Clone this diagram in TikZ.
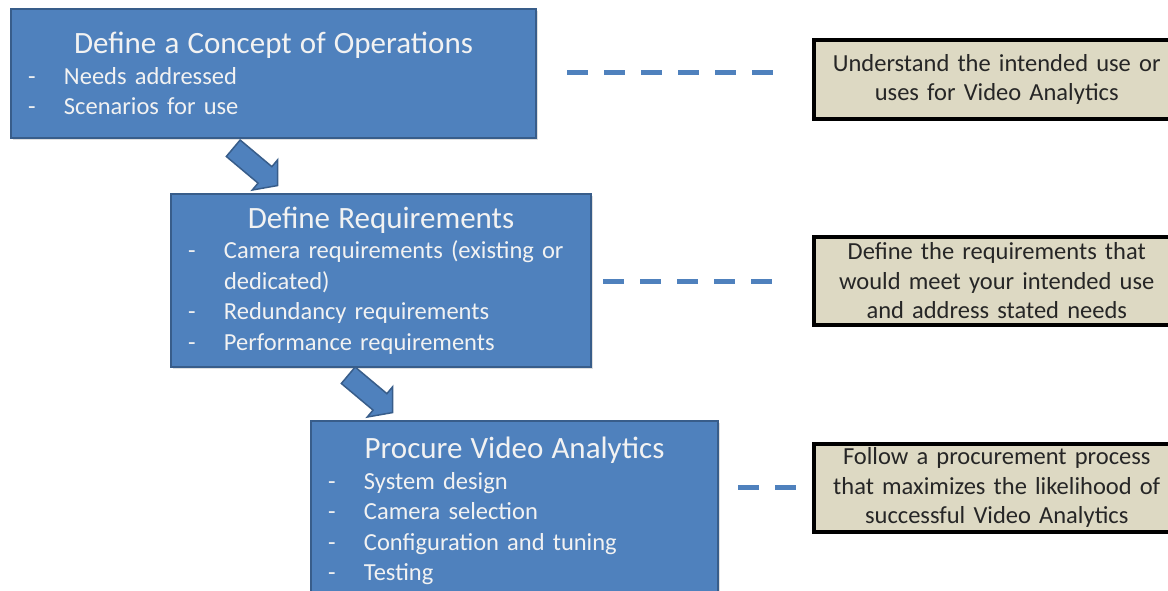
\documentclass[tikz,border=0pt]{standalone}
\usepackage{fontspec}
\setmainfont{Carlito}
\usetikzlibrary{shapes.arrows}
\usetikzlibrary{shadows}

\definecolor{stepblue}{HTML}{4F81BD}
\definecolor{stepedge}{HTML}{385D8A}
\definecolor{notetan}{HTML}{DDD9C3}

\newcommand{\steptitle}[1]{\makebox[\hsize]{\fontsize{31}{36}\selectfont #1}}
\newcommand{\stepdash}{\makebox[36pt][l]{-}}

\tikzset{
    stepbox/.style={draw=stepedge, line width=2pt, fill=stepblue, text=white!95!black,
        rectangle, anchor=north west, inner xsep=17pt, align=left,
        font=\fontsize{24.5}{30.5}\selectfont,
        drop shadow={opacity=0.25, shadow xshift=2pt, shadow yshift=-2pt}},
    notebox/.style={draw=black, line width=3.5pt, fill=notetan, text=black!85,
        rectangle, anchor=north west, minimum width=366pt, minimum height=88pt,
        text width=350pt, align=center, font=\fontsize{24.5}{29.5}\selectfont},
    steparrow/.style={single arrow, draw=stepedge, line width=1.5pt, fill=stepblue,
        inner sep=10pt, minimum height=58pt, single arrow head extend=9pt,
        single arrow tip angle=100},
    dashlink/.style={draw=stepblue, line width=5pt, dash pattern=on 21pt off 16pt}
}

\begin{document}
\begin{tikzpicture}[x=1pt, y=-1pt]

    \useasboundingbox (0, 0) rectangle (1168, 590);

    % Declare the steps
    \node[stepbox, minimum width=525pt, minimum height=129pt, text width=491pt] at (10, 8) (S0)
        {\steptitle{Define a Concept of Operations}\\
         \stepdash Needs addressed\\
         \stepdash Scenarios for use};
    \node[stepbox, minimum width=420pt, minimum height=173pt, text width=386pt] at (170, 193) (S1)
        {\steptitle{Define Requirements}\\
         \stepdash Camera requirements (existing or\\
         \hspace*{36pt}dedicated)\\
         \stepdash Redundancy requirements\\
         \stepdash Performance requirements};
    \node[stepbox, minimum width=407pt, minimum height=180pt, text width=373pt] at (310, 420) (S2)
        {\steptitle{Procure Video Analytics}\\
         \stepdash System design\\
         \stepdash Camera selection\\
         \stepdash Configuration and tuning\\
         \stepdash Testing};

    % Declare the notes
    \node[notebox, minimum height=79pt] at (812, 38) (N0)
        {Understand the intended use or\\uses for Video Analytics};
    \node[notebox] at (812, 235) (N1)
        {Define the requirements that\\would meet your intended use\\and address stated needs};
    \node[notebox] at (812, 442) (N2)
        {Follow a procurement process\\that maximizes the likelihood of\\successful Video Analytics};

    % Declare arrows between steps
    \node[steparrow, rotate=-40] at (252, 164) (A0) {};
    \node[steparrow, rotate=-40] at (367, 391) (A1) {};

    % Declare dashed links
    \coordinate (L0) at (567, 72);
    \coordinate (M0) at (775, 72);
    \coordinate (L1) at (603, 281);
    \coordinate (M1) at (773, 281);
    \coordinate (L2) at (738, 487);
    \coordinate (M2) at (796, 487);
    \draw[dashlink] (L0) -- (M0);
    \draw[dashlink] (L1) -- (M1);
    \draw[dashlink] (L2) -- (M2);

\end{tikzpicture}
\end{document}
